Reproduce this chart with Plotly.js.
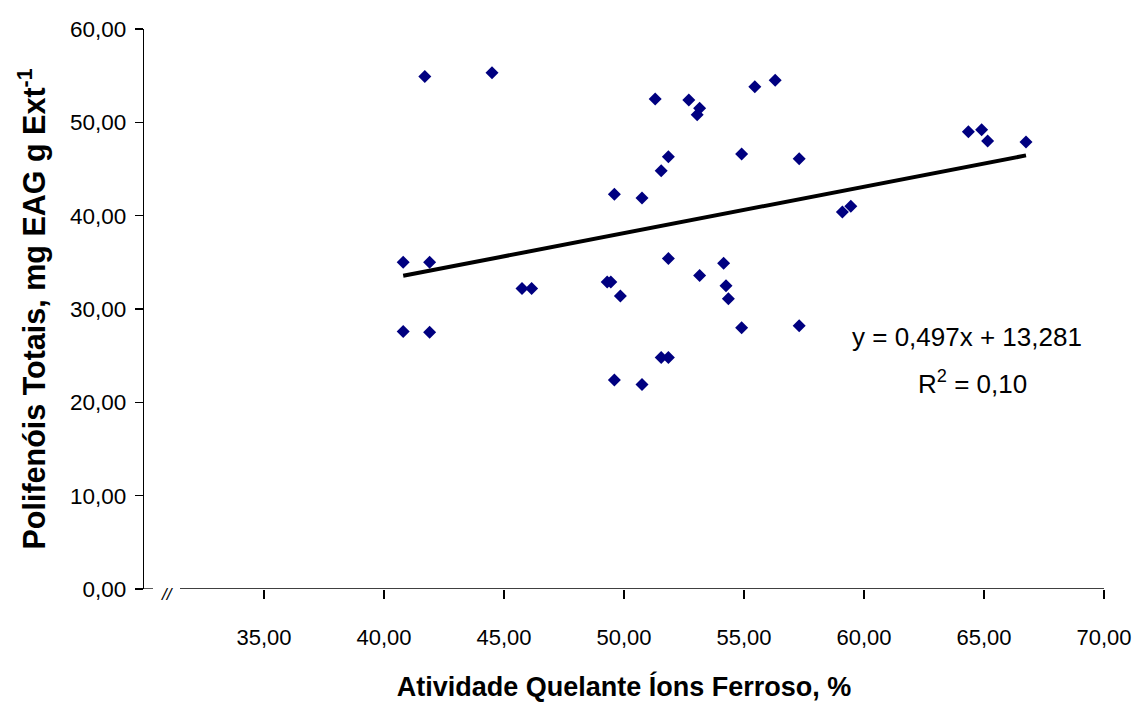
<!DOCTYPE html>
<html>
<head>
<meta charset="utf-8">
<script src="https://cdn.plot.ly/plotly-3.0.1.min.js"></script>
<style>html,body{margin:0;padding:0;background:#fff;}#chart{width:1142px;height:702px;}</style>
</head>
<body>
<div id="chart"></div>
<script>
// Atividade Quelante Íons Ferroso, % (x) vs Polifenóis Totais (y)
var quelanteX = [40.8, 40.8, 41.7, 41.9, 41.9, 44.5, 45.75, 46.15, 49.3, 49.45,
                 49.85, 49.6, 49.6, 50.75, 50.75, 51.3, 51.55, 51.85, 51.85, 51.55,
                 51.85, 52.7, 53.15, 53.05, 53.15, 54.15, 54.25, 54.35, 54.9, 54.9,
                 55.45, 56.3, 57.3, 57.3, 59.1, 59.45, 64.35, 64.9, 65.15, 66.75];
var polifenoisY = [35.0, 27.6, 54.9, 35.0, 27.5, 55.3, 32.2, 32.2, 32.9, 32.9,
                   31.4, 42.3, 22.4, 21.9, 41.9, 52.5, 44.8, 46.3, 35.4, 24.8,
                   24.8, 52.4, 51.5, 50.8, 33.6, 34.9, 32.5, 31.1, 46.6, 28.0,
                   53.8, 54.5, 46.1, 28.2, 40.4, 41.0, 49.0, 49.2, 48.0, 47.9];
var xTickVals = [35, 40, 45, 50, 55, 60, 65, 70];
var yTickVals = [0, 10, 20, 30, 40, 50, 60];
var trendSlope = 0.497;
var trendIntercept = 13.281;
var equationText = 'y = 0,497x + 13,281';
var r2Text = 'R<sup>2</sup> = 0,10';

var xMin = Math.min.apply(null, quelanteX);
var xMax = Math.max.apply(null, quelanteX);
var trendX = [xMin, xMax];
var trendY = trendX.map(function (v) { return trendSlope * v + trendIntercept; });

var FONT = 'Liberation Sans, Arial, sans-serif';

var traces = [
  {
    type: 'scatter', mode: 'markers', x: quelanteX, y: polifenoisY,
    marker: {symbol: 'diamond', size: 10, color: '#000080', line: {width: 0}},
    hoverinfo: 'x+y', showlegend: false, cliponaxis: false
  },
  {
    type: 'scatter', mode: 'lines', x: trendX, y: trendY,
    line: {color: '#000000', width: 4}, hoverinfo: 'skip', showlegend: false
  }
];

var layout = {
  width: 1142, height: 702,
  margin: {l: 144, r: 38, t: 29, b: 113},
  paper_bgcolor: '#ffffff', plot_bgcolor: '#ffffff',
  separators: ',.',
  font: {family: FONT, size: 22, color: '#000000'},
  showlegend: false,
  xaxis: {
    range: [30, 70], tickvals: xTickVals, tickformat: '.2f',
    showgrid: false, zeroline: false, showline: false,
    ticks: 'outside', ticklen: 9, tickwidth: 1.3, tickcolor: '#000',
    ticklabelstandoff: 20,
    tickfont: {family: FONT, size: 22, color: '#000'},
    title: {text: '<b>Atividade Quelante Íons Ferroso, %</b>', font: {family: FONT, size: 27, color: '#000'}, standoff: 29}
  },
  yaxis: {
    range: [0, 60], tickvals: yTickVals, tickformat: '.2f',
    showgrid: false, zeroline: false, showline: true, linecolor: '#000', linewidth: 1.3,
    ticks: 'outside', ticklen: 8, tickwidth: 1.3, tickcolor: '#000',
    ticklabelstandoff: 4,
    tickfont: {family: FONT, size: 22.5, color: '#000'},
    title: {text: '<b>Polifenóis Totais, mg EAG g Ext<sup>-1</sup></b>', font: {family: FONT, size: 30.5, color: '#000'}, standoff: 15}
  },
  shapes: [
    {type: 'line', xref: 'x', yref: 'y', x0: 30, x1: 30.375, y0: 0, y1: 0, line: {color: '#000', width: 1.3}},
    {type: 'line', xref: 'x', yref: 'y', x0: 31.5, x1: 70, y0: 0, y1: 0, line: {color: '#000', width: 1.3}}
  ],
  annotations: [
    {xref: 'x', yref: 'y', x: 30.97, y: 0, text: '<i>//</i>', showarrow: false,
     yshift: -5, font: {family: FONT, size: 17, color: '#000'}},
    {xref: 'x', yref: 'y', x: 64.29, y: 27.03, text: equationText, showarrow: false,
     font: {family: FONT, size: 26, color: '#000'}},
    {xref: 'x', yref: 'y', x: 64.5, y: 22.1, text: r2Text, showarrow: false,
     font: {family: FONT, size: 26, color: '#000'}}
  ]
};

Plotly.newPlot('chart', traces, layout, {displayModeBar: false, staticPlot: true});
</script>
</body>
</html>
